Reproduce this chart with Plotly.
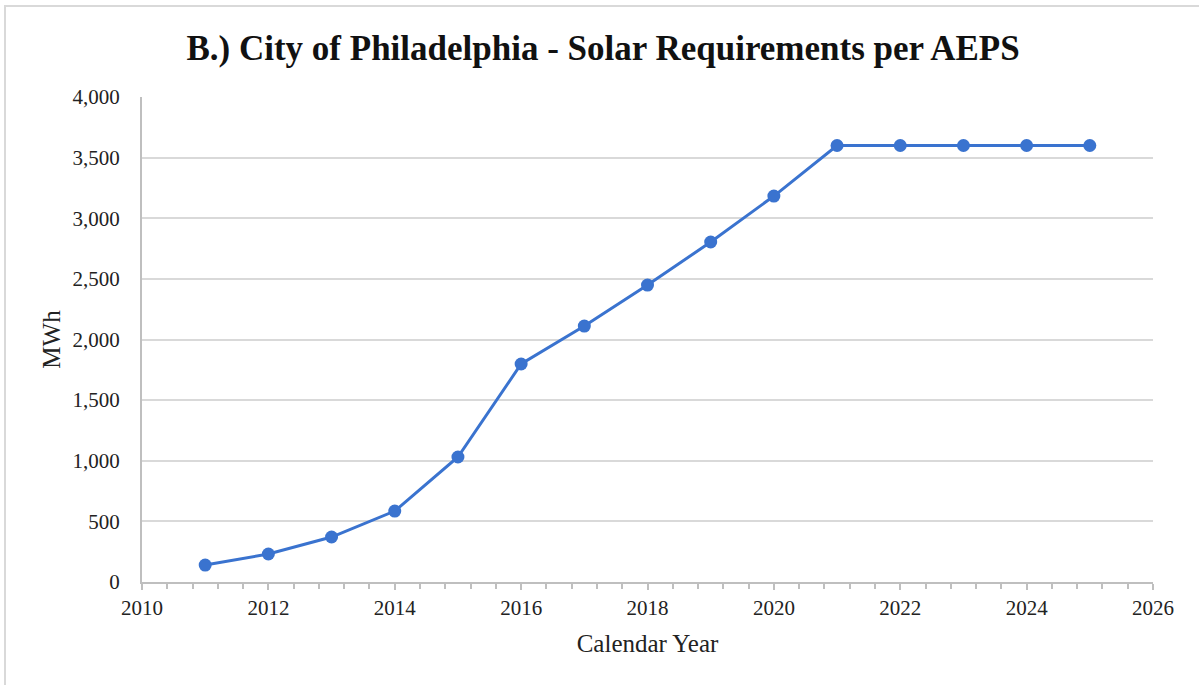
import plotly.graph_objects as go

years = [2011, 2012, 2013, 2014, 2015, 2016, 2017, 2018, 2019, 2020, 2021, 2022, 2023, 2024, 2025]
mwh = [140, 231, 371, 585, 1031, 1798, 2111, 2449, 2804, 3183, 3600, 3600, 3600, 3600, 3600]

title_text = "B.) City of Philadelphia - Solar Requirements per AEPS"
x_title = "Calendar Year"
y_title = "MWh"

font_family = "Liberation Serif, Times New Roman, serif"
line_color = "#3A73CF"
grid_color = "#D9D9D9"

fig = go.Figure()
fig.add_trace(go.Scatter(
    x=years, y=mwh, mode="lines+markers",
    line=dict(color=line_color, width=3),
    marker=dict(color=line_color, size=13),
    showlegend=False,
))

fig.update_layout(
    width=1199, height=685,
    margin=dict(l=142, r=46, t=97, b=103),
    paper_bgcolor="white", plot_bgcolor="white",
    font=dict(family=font_family, color="#222222"),
    title=dict(text="<b>" + title_text + "</b>", x=0.503, xanchor="center",
               y=0.931, yanchor="middle",
               font=dict(size=35, family=font_family, color="#111111")),
    shapes=[dict(type="rect", xref="paper", yref="paper",
                 x0=-0.1355, x1=1.1, y0=-0.3, y1=1.1876,
                 line=dict(color="#D9D9D9", width=2), layer="below")],
)

fig.update_xaxes(
    range=[2010, 2026], tickvals=list(range(2010, 2027, 2)),
    showgrid=False, showline=True, linecolor="#BFBFBF", linewidth=2,
    ticks="outside", ticklen=6, tickcolor="#BFBFBF", tickwidth=2,
    minor=dict(ticks="outside", ticklen=5, tickcolor="#BFBFBF", tickwidth=1.5, dtick=0.4, showgrid=False),
    tickfont=dict(size=21, family=font_family, color="#222222"),
    title=dict(text=x_title, font=dict(size=25, family=font_family, color="#222222"), standoff=15),
    zeroline=False,
)
fig.update_yaxes(
    range=[0, 4000], tickvals=list(range(0, 4001, 500)), tickformat=",",
    showgrid=True, gridcolor=grid_color, gridwidth=2,
    showline=True, linecolor="#BFBFBF", linewidth=2,
    ticks="", ticklabelstandoff=16,
    tickfont=dict(size=21, family=font_family, color="#222222"),
    title=dict(text=y_title, font=dict(size=25, family=font_family, color="#222222"), standoff=5),
    zeroline=False,
)

fig.write_html("out.html", config={"displayModeBar": False},
               post_script="document.body.style.margin='0px';")
